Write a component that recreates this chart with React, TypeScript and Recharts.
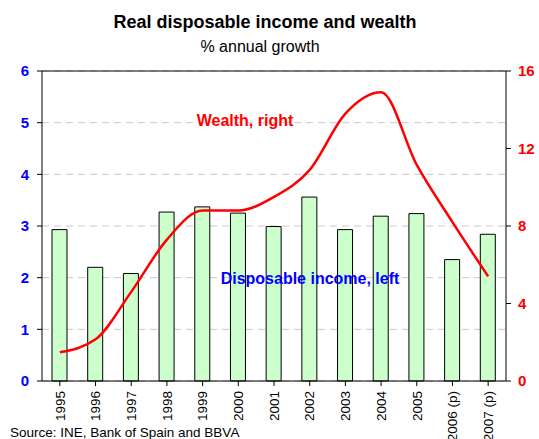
import React from 'react';
import {
  ComposedChart,
  Bar,
  Line,
  XAxis,
  YAxis,
  CartesianGrid,
  ReferenceLine,
} from 'recharts';

// years on the x axis
const years = [
  '1995', '1996', '1997', '1998', '1999', '2000', '2001',
  '2002', '2003', '2004', '2005', '2006 (p)', '2007 (p)',
];

// disposable income, % growth (left axis)
const income = [2.93, 2.2, 2.08, 3.27, 3.37, 3.25, 2.99, 3.56, 2.93, 3.19, 3.24, 2.35, 2.84];

// wealth, % growth (right axis)
const wealth = [1.48, 2.15, 4.6, 7.3, 8.8, 8.8, 9.5, 10.9, 13.8, 14.9, 11.15, 8.2, 5.4];

const leftTicks = [0, 1, 2, 3, 4, 5, 6];
const rightTicks = [0, 4, 8, 12, 16];

const data = years.map((year, i) => ({ year, income: income[i], wealth: wealth[i] }));

const FONT = 'Arial, "Liberation Sans", sans-serif';

const YearTick = (props: any) => {
  const { x, y, payload } = props;
  return (
    <g transform={`translate(${x},${y})`}>
      <text
        transform="rotate(-90)"
        textAnchor="end"
        dy="0.35em"
        fontSize={13.5}
        fontFamily={FONT}
        fill="#000"
      >
        {payload.value}
      </text>
    </g>
  );
};

// bold coloured numbers on the value axes
const ValueTick = (props: any) => {
  const { x, y, payload, color, anchor } = props;
  return (
    <text
      x={x}
      y={y}
      dy="0.35em"
      textAnchor={anchor}
      fontSize={15}
      fontWeight="bold"
      fontFamily={FONT}
      fill={color}
    >
      {payload.value}
    </text>
  );
};

export default function App() {
  return (
    <div style={{ position: 'absolute', left: 0, top: 0, width: 539, height: 439, background: '#fff' }}>
      <ComposedChart
        width={539}
        height={439}
        data={data}
        margin={{ top: 71, right: 0, bottom: 0, left: 0 }}
        barCategoryGap={0}
      >
        <CartesianGrid
          yAxisId="left"
          vertical={false}
          stroke="#c8c8c8"
          strokeDasharray="7 5"
        />
        <XAxis
          dataKey="year"
          height={58}
          interval={0}
          tickSize={5}
          tickMargin={5}
          stroke="#000"
          tick={<YearTick />}
        />
        <YAxis
          yAxisId="left"
          domain={[0, 6]}
          ticks={leftTicks}
          width={42}
          tickSize={5}
          tickMargin={8}
          stroke="#000"
          tick={<ValueTick color="#0000ff" anchor="end" />}
        />
        <YAxis
          yAxisId="right"
          orientation="right"
          domain={[0, 16]}
          ticks={rightTicks}
          width={33}
          tickSize={5}
          tickMargin={7}
          stroke="#000"
          tick={<ValueTick color="#ff0000" anchor="start" />}
        />
        <ReferenceLine yAxisId="left" y={6} stroke="#000" strokeWidth={1} />
        <Bar
          yAxisId="left"
          dataKey="income"
          fill="#ccffcc"
          stroke="#000"
          strokeWidth={1}
          barSize={15}
          isAnimationActive={false}
        />
        <Line
          yAxisId="right"
          dataKey="wealth"
          type="monotone"
          stroke="#ff0000"
          strokeWidth={2.5}
          dot={false}
          isAnimationActive={false}
        />
      </ComposedChart>
      <svg
        width={539}
        height={439}
        style={{ position: 'absolute', left: 0, top: 0, pointerEvents: 'none' }}
      >
        <text x={265} y={28} textAnchor="middle" fontSize={18} fontWeight="bold" fontFamily={FONT} fill="#000">
          Real disposable income and wealth
        </text>
        <text x={260} y={52} textAnchor="middle" fontSize={16} fontFamily={FONT} fill="#000">
          % annual growth
        </text>
        <text x={245} y={126} textAnchor="middle" fontSize={16} fontWeight="bold" fontFamily={FONT} fill="#ff0000">
          Wealth, right
        </text>
        <text x={310} y={284} textAnchor="middle" fontSize={16} fontWeight="bold" fontFamily={FONT} fill="#0000ff">
          Disposable income, left
        </text>
        <text x={10} y={437} fontSize={13.5} fontFamily={FONT} fill="#000">
          Source: INE, Bank of Spain and BBVA
        </text>
      </svg>
    </div>
  );
}
